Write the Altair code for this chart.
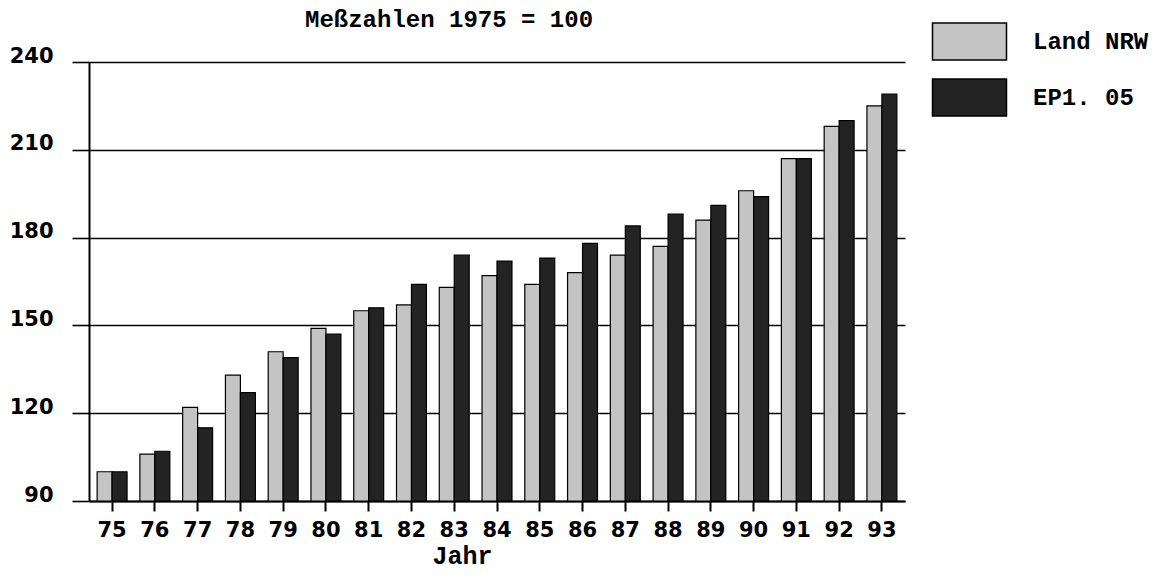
import altair as alt
import pandas as pd

years = ["75", "76", "77", "78", "79", "80", "81", "82", "83", "84",
         "85", "86", "87", "88", "89", "90", "91", "92", "93"]
land_nrw = [100, 106, 122, 133, 141, 149, 155, 157, 163, 167,
            164, 168, 174, 177, 186, 196, 207, 218, 225]
epl_05 = [100, 107, 115, 127, 139, 147, 156, 164, 174, 172,
          173, 178, 184, 188, 191, 194, 207, 220, 229]
series_names = ["Land NRW", "EP1. 05"]
y_ticks = [90, 120, 150, 180, 210, 240]

rows = []
for i, y in enumerate(years):
    rows.append({"Jahr": y, "series": series_names[0], "value": land_nrw[i]})
    rows.append({"Jahr": y, "series": series_names[1], "value": epl_05[i]})
df = pd.DataFrame(rows)

MONO = "Liberation Mono"
SANS = "DejaVu Sans"

rect_path = "M-2,-1H2V1H-2Z"

chart = alt.Chart(df).mark_bar(stroke="black", strokeWidth=1.2).encode(
    x=alt.X("Jahr:N", sort=years,
            scale=alt.Scale(paddingInner=0.3, paddingOuter=0.19),
            axis=alt.Axis(title="Jahr", labelAngle=0, grid=False,
                          labelFont=SANS, labelFontSize=21, labelFontWeight="bold",
                          labelColor="black", labelBaseline="top",
                          tickSize=10, tickWidth=2, tickColor="black",
                          labelPadding=8, domain=True, domainColor="black",
                          domainWidth=2,
                          titleFont=MONO, titleFontSize=25, titleFontWeight="bold",
                          titleColor="black", titleX=373, titleY=62,
                          titleBaseline="alphabetic", titleAnchor="middle")),
    xOffset=alt.XOffset("series:N", sort=series_names,
                        scale=alt.Scale(paddingInner=0)),
    y=alt.Y("value:Q",
            scale=alt.Scale(domain=[90, 240], zero=False, nice=False),
            axis=alt.Axis(title=None, values=y_ticks, grid=True,
                          gridColor="black", gridWidth=1.6, gridOpacity=1,
                          labelFont=SANS, labelFontSize=21, labelFontWeight="bold",
                          labelColor="black", labelBaseline="alphabetic",
                          tickSize=17, tickWidth=1.6, tickColor="black",
                          labelPadding=19, domain=True, domainColor="black",
                          domainWidth=2)),
    y2=alt.datum(90),
    color=alt.Color("series:N",
                    scale=alt.Scale(domain=series_names,
                                    range=["#c4c4c4", "#232323"]),
                    legend=alt.Legend(title=None, orient="none",
                                      legendX=861, legendY=-40,
                                      symbolType=rect_path, symbolSize=1369,
                                      symbolStrokeColor="black",
                                      symbolStrokeWidth=1.5,
                                      labelFont=MONO, labelFontSize=24,
                                      labelFontWeight="bold", labelColor="black",
                                      labelOffset=44, labelLimit=300,
                                      rowPadding=13, padding=0)),
).properties(
    width=816,
    height=439,
    title=alt.TitleParams("Meßzahlen 1975 = 100", anchor="start", frame="group",
                          dx=216, dy=29,
                          font=MONO, fontSize=24, fontWeight="bold",
                          color="black", baseline="alphabetic", offset=0),
    autosize=alt.AutoSizeParams(type="none"),
    padding={"left": 81, "top": 54, "right": 247, "bottom": 70},
).configure_view(stroke="transparent")

chart.save("out.html", embed_options={"renderer": "svg", "actions": False})
